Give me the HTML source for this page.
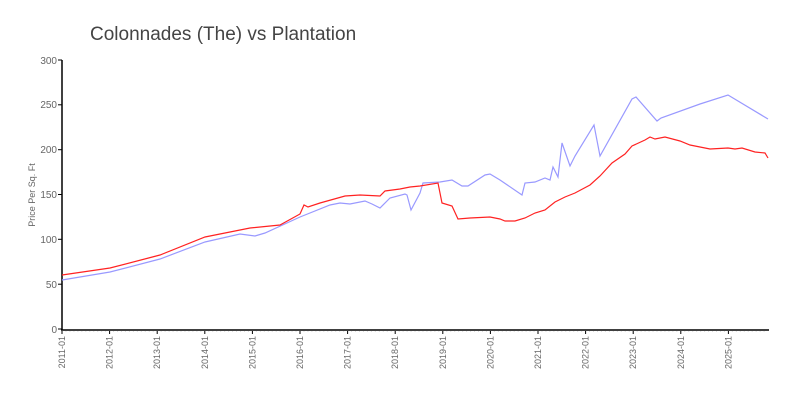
<!DOCTYPE html>
<html><head><meta charset="utf-8"><style>
html,body{margin:0;padding:0;background:#fff;}
svg text{font-family:"Liberation Sans",sans-serif;}
</style></head><body>
<svg width="800" height="400" xmlns="http://www.w3.org/2000/svg">
<text x="90" y="40" font-size="19" fill="#444">Colonnades (The) vs Plantation</text>
<g stroke="#000" stroke-width="1.5" fill="none">
<line x1="62" y1="60" x2="62" y2="330"/>
<line x1="61" y1="330" x2="769" y2="330"/>
</g>
<g stroke="#000" stroke-width="1">
<line x1="58" y1="329" x2="62" y2="329"/><line x1="58" y1="284.2" x2="62" y2="284.2"/>
<line x1="58" y1="239.3" x2="62" y2="239.3"/><line x1="58" y1="194.5" x2="62" y2="194.5"/>
<line x1="58" y1="149.7" x2="62" y2="149.7"/><line x1="58" y1="104.8" x2="62" y2="104.8"/>
<line x1="58" y1="60" x2="62" y2="60"/>
</g>
<g font-size="10" fill="#666" text-anchor="end">
<text x="57" y="333">0</text><text x="57" y="288">50</text><text x="57" y="243">100</text>
<text x="57" y="198">150</text><text x="57" y="153">200</text><text x="57" y="108">250</text><text x="57" y="64">300</text>
</g>
<text transform="translate(35,195) rotate(-90)" font-size="9" fill="#666" text-anchor="middle">Price Per Sq. Ft</text>
<g id="xt" font-size="9" fill="#666"></g>
<polyline fill="none" stroke="#9999ff" stroke-width="1.2" points="62,280 110,272 160,259 205,242 240,234 255,236 265,233 300,217 330,205 340,203 350,204 365,201 372,204 380,208 390,198 405,194 407,195 411,210 420,193 423,183 440,182 452,180 462,186 468,186 485,175 490,174 500,180 522,195 525,183 535,182 545,178 550,180 553,167 558,177 562,143 570,166 575,156 594,125 600,156 632,99 636,97 657,121 661,118 700,104 728,95 768,119"/>
<polyline fill="none" stroke="#ff2222" stroke-width="1.2" points="62,275 110,268 160,255 205,237 250,228 280,225 300,214 304,205 308,207 320,203 345,196 360,195 380,196 385,191 400,189 410,187 420,186 438,183 442,203 452,206 458,219 470,218 490,217 500,219 505,221 515,221 525,218 535,213 545,210 555,202 565,197 575,193 590,185 600,176 612,163 625,154 632,146 645,140 650,137 655,139 665,137 680,141 690,145 700,147 710,149 728,148 735,149 742,148 755,152 765,153 768,158"/>
<script>
var g=document.getElementById('xt'),ns='http://www.w3.org/2000/svg';
for(var m=0;m<178;m++){var x=62+m*47.6/12;var l=document.createElementNS(ns,'line');
l.setAttribute('x1',x);l.setAttribute('x2',x);l.setAttribute('y1',331);l.setAttribute('y2',m%12==0?334:332);
l.setAttribute('stroke',m%12==0?'#000':'#ddd');l.setAttribute('stroke-width',1);g.appendChild(l);
if(m%12==0){var t=document.createElementNS(ns,'text');t.setAttribute('transform','translate('+(x+3)+',336) rotate(-90)');
t.setAttribute('text-anchor','end');t.textContent=(2011+m/12)+'-01';g.appendChild(t);}}
</script>
</svg>
</body></html>
